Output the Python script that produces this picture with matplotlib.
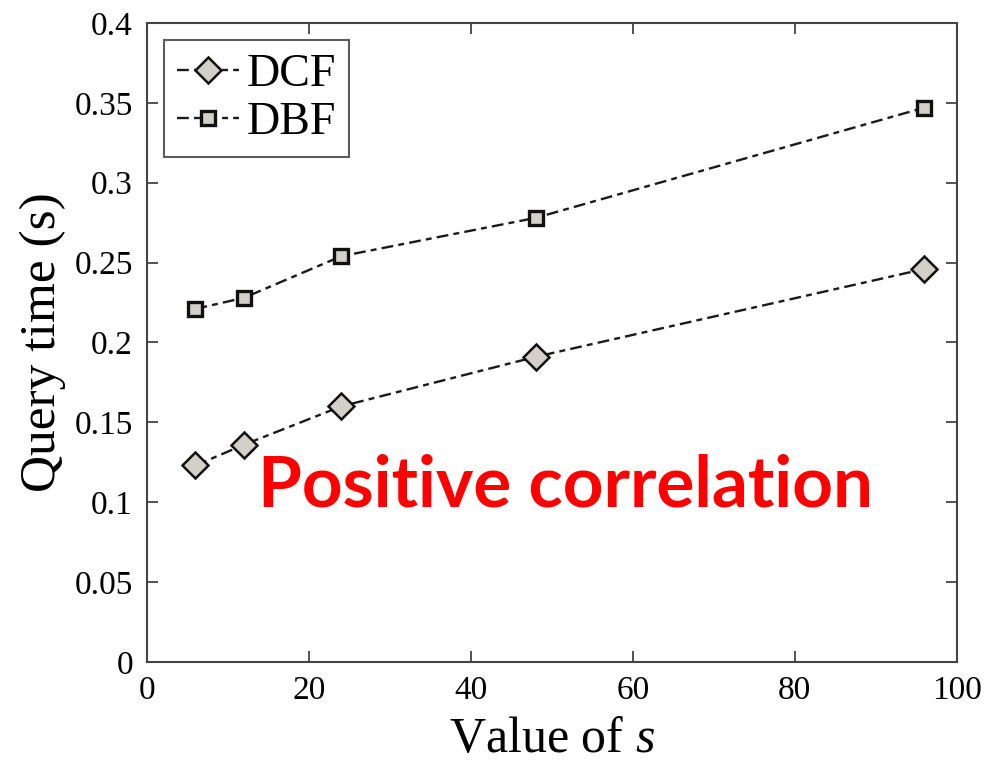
import matplotlib
matplotlib.use("Agg")
import matplotlib.pyplot as plt

s_values = [6, 12, 24, 48, 96]
dcf = [0.123, 0.136, 0.160, 0.191, 0.246]
dbf = [0.221, 0.228, 0.254, 0.278, 0.347]
xticks = [0, 20, 40, 60, 80, 100]
yticks = [0, 0.05, 0.1, 0.15, 0.2, 0.25, 0.3, 0.35, 0.4]
ytick_labels = ["0", "0.05", "0.1", "0.15", "0.2", "0.25", "0.3", "0.35", "0.4"]

plt.rcParams['font.family'] = ['Liberation Serif', 'DejaVu Serif']
plt.rcParams['mathtext.fontset'] = 'custom'
plt.rcParams['mathtext.rm'] = 'Liberation Serif'
plt.rcParams['mathtext.it'] = 'Liberation Serif:italic'

fig = plt.figure(figsize=(10.06, 7.67), dpi=100)
ax = fig.add_axes([0.146, 0.137, 0.805, 0.833])

style = dict(linestyle='-.', color='#1a1a1a', linewidth=1.7,
             markerfacecolor='#d4d0c8', markeredgecolor='#111111',
             dashes=(5, 2.2, 2.5, 2.2))
ax.plot(s_values, dcf, marker='D', markersize=13, markeredgewidth=1.8,
        label='DCF', **style)
ax.plot(s_values, dbf, marker='s', markersize=10.5, markeredgewidth=2.4,
        label='DBF', **style)

ax.set_xlim(0, 100)
ax.set_ylim(0, 0.4)
ax.set_xticks(xticks)
ax.set_yticks(yticks)
ax.set_yticklabels(ytick_labels)
ax.tick_params(direction='in', length=8, width=1.2, top=True, right=True,
               labelsize=24, color='#333333')
ax.tick_params(axis='x', pad=10)
ax.tick_params(axis='y', pad=10)
for sp in ax.spines.values():
    sp.set_color('#444444')
    sp.set_linewidth(1.5)

ax.set_xlabel('Value of $\\mathit{s}$', fontsize=36, labelpad=7)
ax.set_ylabel('Query time (s)', fontsize=37, labelpad=6)

leg = ax.legend(loc='upper left', fontsize=33, frameon=True, fancybox=False,
                handlelength=1.35, handletextpad=0.17, borderpad=0.28,
                labelspacing=0.12, borderaxespad=0.38)
leg.get_frame().set_edgecolor('#333333')
leg.get_frame().set_linewidth(1.5)

ax.text(0.517, 0.2426, 'Positive correlation', transform=ax.transAxes,
        ha='center', va='baseline', color='#ff0000', fontsize=51,
        fontweight='bold', family=['Lato', 'DejaVu Sans'])

fig.savefig('out.png', dpi=100)
